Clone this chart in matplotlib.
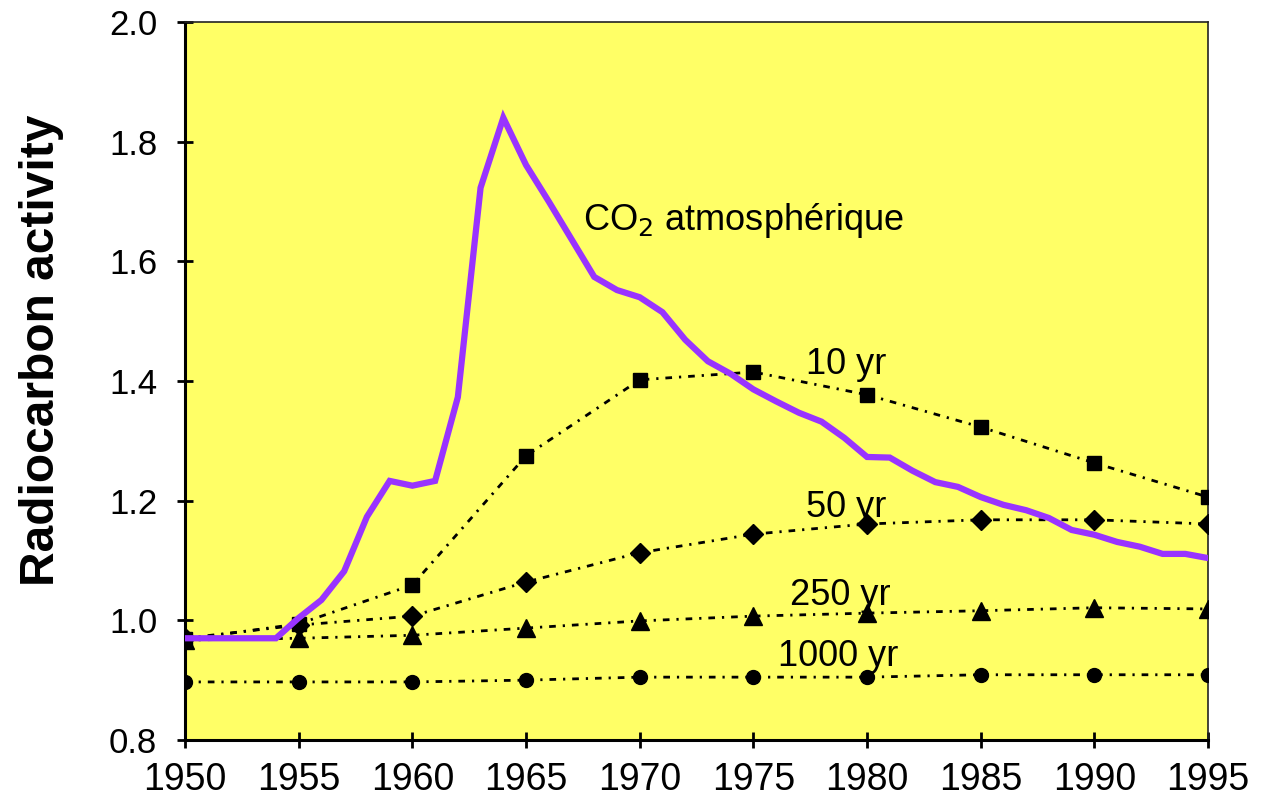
import matplotlib
matplotlib.use("Agg")
import matplotlib.pyplot as plt

# Atmospheric CO2 radiocarbon activity, yearly
co2_years = list(range(1950, 1996))
co2_values = [0.970, 0.970, 0.970, 0.970, 0.970, 1.004, 1.034, 1.082, 1.173, 1.233,
              1.225, 1.233, 1.373, 1.723, 1.840, 1.761, 1.700, 1.637, 1.574, 1.552,
              1.540, 1.515, 1.469, 1.433, 1.412, 1.386, 1.366, 1.347, 1.332, 1.305,
              1.273, 1.272, 1.250, 1.231, 1.223, 1.206, 1.193, 1.184, 1.171, 1.151,
              1.143, 1.131, 1.123, 1.111, 1.111, 1.104]

# Reservoirs with different residence times, every 5 years
res_years = [1950, 1955, 1960, 1965, 1970, 1975, 1980, 1985, 1990, 1995]
res_10 = [0.968, 0.994, 1.059, 1.275, 1.402, 1.415, 1.377, 1.323, 1.263, 1.206]
res_50 = [0.970, 0.992, 1.007, 1.064, 1.113, 1.144, 1.161, 1.168, 1.168, 1.161]
res_250 = [0.967, 0.970, 0.975, 0.987, 0.999, 1.007, 1.012, 1.016, 1.021, 1.019]
res_1000 = [0.897, 0.897, 0.897, 0.900, 0.905, 0.905, 0.905, 0.909, 0.909, 0.909]

plt.rcParams['font.family'] = ['Liberation Sans', 'DejaVu Sans']

fig = plt.figure(figsize=(12.63, 8.01), dpi=100)
ax = fig.add_axes([0.1465, 0.0762, 0.81, 0.8963])
ax.set_facecolor('#FFFF66')

dash = (0, (2.4, 2.5, 0.8, 2.5))
ax.plot(res_years, res_10, color='black', lw=2, ls=dash, marker='s', ms=10.5, zorder=3)
ax.plot(res_years, res_50, color='black', lw=2, ls=dash, marker='D', ms=10, zorder=3)
ax.plot(res_years, res_250, color='black', lw=2, ls=dash, marker='^', ms=13, zorder=3)
ax.plot(res_years, res_1000, color='black', lw=2, ls=dash, marker='o', ms=10, zorder=3)

ax.plot(co2_years, co2_values, color='#9933FF', lw=4.5, solid_joinstyle='miter', zorder=4)

# Labels on the curves
ax.text(1967.5, 1.669, 'CO$_2$ atmosphérique', fontsize=26, va='center', ha='left')
ax.text(1977.3, 1.427, '10 yr', fontsize=26, va='center', ha='left')
ax.text(1977.3, 1.188, '50 yr', fontsize=26, va='center', ha='left')
ax.text(1976.6, 1.042, '250 yr', fontsize=26, va='center', ha='left')
ax.text(1976.1, 0.939, '1000 yr', fontsize=26, va='center', ha='left')

ax.set_xlim(1950, 1995)
ax.set_ylim(0.8, 2.0)
ax.set_xticks(range(1950, 1996, 5))
ax.set_yticks([0.8, 1.0, 1.2, 1.4, 1.6, 1.8, 2.0])
ax.set_yticklabels(['0.8', '1.0', '1.2', '1.4', '1.6', '1.8', '2.0'])
ax.tick_params(axis='x', direction='inout', length=12, width=2, labelsize=27, pad=10)
ax.tick_params(axis='y', direction='inout', length=12, width=2, labelsize=25, pad=14)

for side in ['left', 'bottom']:
    ax.spines[side].set_linewidth(2.2)
for side in ['top', 'right']:
    ax.spines[side].set_linewidth(1.2)
    ax.spines[side].set_color('#222222')

ax.set_ylabel('Radiocarbon activity', fontsize=34.5, fontweight='bold')
ax.yaxis.set_label_coords(-0.118, 0.543)

fig.savefig('out.png', dpi=100, facecolor='white')
